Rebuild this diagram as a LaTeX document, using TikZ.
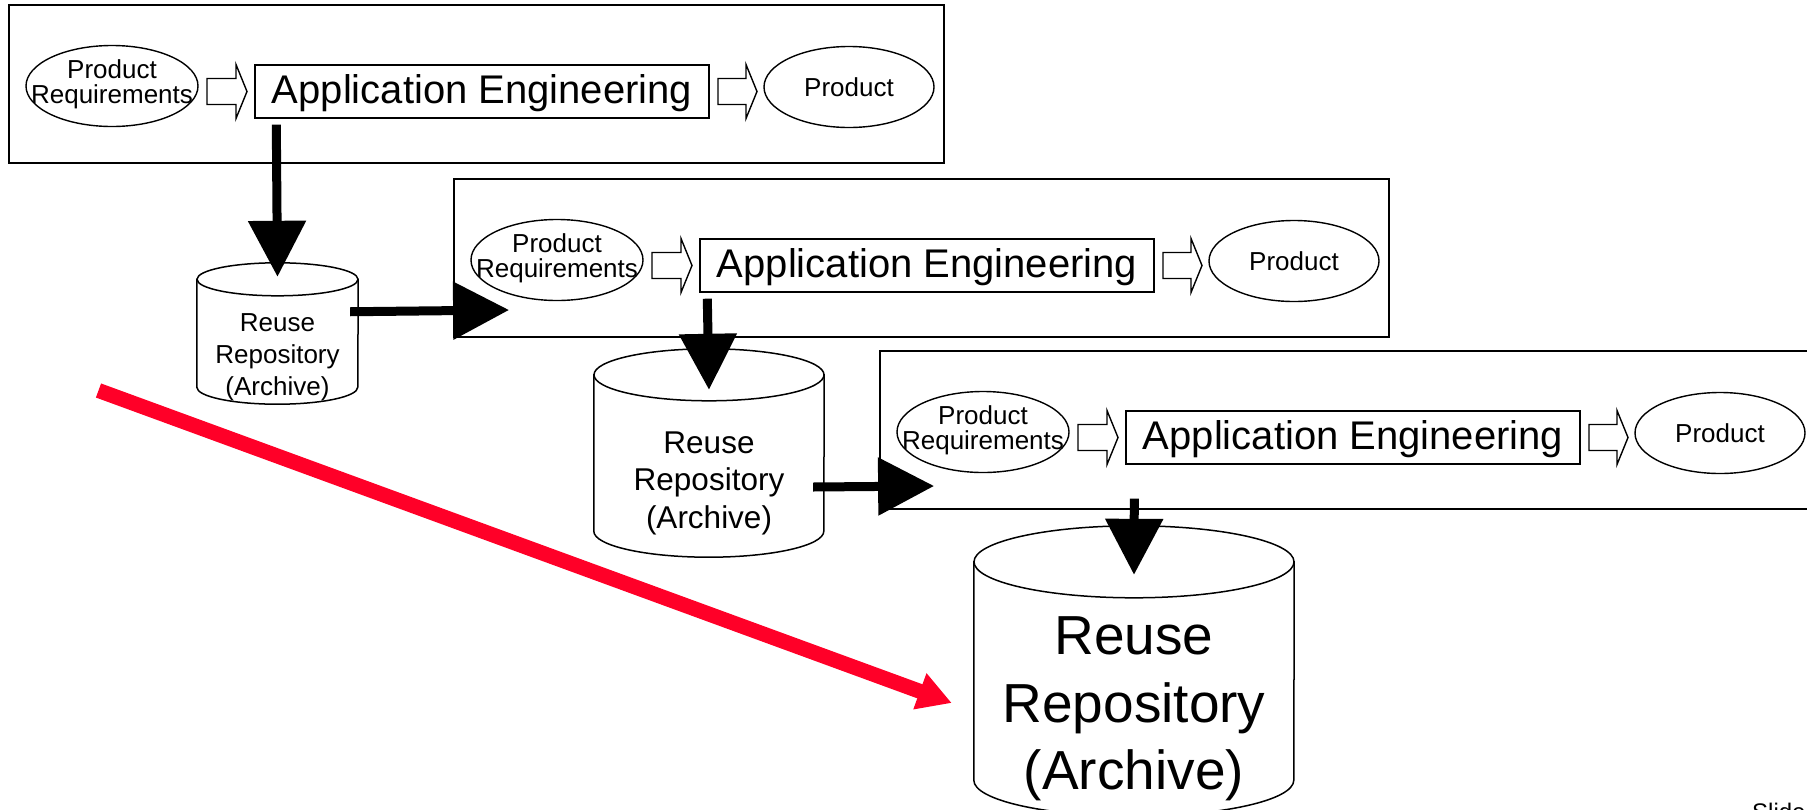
\documentclass[tikz,border=0pt]{standalone}
\usepackage{fontspec}
\setmainfont{Liberation Sans}
\usetikzlibrary{shapes.geometric,arrows.meta,calc}
\definecolor{myred}{RGB}{255,0,40}
\tikzset{
  panelbox/.style={draw, line width=1.8pt, inner sep=0pt, minimum width=935pt, minimum height=158pt},
  oval/.style={draw, ellipse, line width=1.4pt, inner sep=0pt},
  engbox/.style={draw, line width=1.4pt, inner sep=0pt, minimum width=454pt, minimum height=53pt, text height=29pt, text depth=6pt, font=\fontsize{40pt}{40pt}\selectfont},
  smalltxt/.style={font=\fontsize{26pt}{25pt}\selectfont, align=center, inner sep=0pt},
  hollow/.style={draw, line width=1.4pt, fill=white, line join=miter},
  cylbody/.style={inner sep=0pt},
  cylline/.style={draw, line width=1.5pt, fill=white},
  cyltxtA/.style={font=\fontsize{26pt}{32pt}\selectfont, align=center, inner sep=0pt},
  cyltxtB/.style={font=\fontsize{31.5pt}{37.5pt}\selectfont, align=center, inner sep=0pt},
  cyltxtC/.style={font=\fontsize{55pt}{67.5pt}\selectfont, align=center, inner sep=0pt},
  bigarrow/.style={line width=9pt, -{Triangle[length=56pt,width=56pt]}},
  redarrow/.style={line width=15pt, draw=myred, -{Triangle[length=34pt,width=36pt]}},
  panel/.pic={
    \node[panelbox] (-box) at (476.5,84) {};
    \node[oval, minimum width=172pt, minimum height=81pt] (-pr) at (112,86) {};
    \node[smalltxt] (-prt) at (112,84) {Product\\Requirements};
    \node[engbox] (-ae) at (482,91.5) {Application Engineering};
    \node[oval, minimum width=170pt, minimum height=81pt] (-pd) at (849,87) {};
    \node[smalltxt] (-pdt) at (849,87) {Product};
    \draw[hollow] (207,78.5) -- (236,78.5) -- (236,64.5) -- (247,91.5) -- (236,118.5) -- (236,104.5) -- (207,104.5) -- cycle;
    \draw[hollow] (718,78.5) -- (746,78.5) -- (746,64.5) -- (757,91.5) -- (746,118.5) -- (746,104.5) -- (718,104.5) -- cycle;
  }
}
\begin{document}
\begin{tikzpicture}[x=1pt,y=-1pt]
\useasboundingbox (0,0) rectangle (1807,809);

% panels
\pic (p1) at (0,0) {panel};
\pic (p2) at (445,174) {panel};
\pic (p3) at (871,346) {panel};

% cylinders (body nodes span top centre to bottom centre)
\node[cylbody, minimum width=161pt, minimum height=107.5pt] (c1) at (277.5,333.25) {};
\node[cylbody, minimum width=230pt, minimum height=156pt] (c2) at (709,453) {};
\node[cylbody, minimum width=320pt, minimum height=218pt] (c3) at (1134,671) {};

\path[cylline] (c1.north west) -- (c1.south west) arc[start angle=180, end angle=360, x radius=80.5pt, y radius=17pt] -- (c1.north east) -- cycle;
\path[cylline] (c1.north) ellipse[x radius=80.5pt, y radius=16.5pt];
\path[cylline] (c2.north west) -- (c2.south west) arc[start angle=180, end angle=360, x radius=115pt, y radius=26pt] -- (c2.north east) -- cycle;
\path[cylline] (c2.north) ellipse[x radius=115pt, y radius=26pt];
\path[cylline] (c3.north west) -- (c3.south west) arc[start angle=180, end angle=360, x radius=160pt, y radius=36pt] -- (c3.north east) -- cycle;
\path[cylline] (c3.north) ellipse[x radius=160pt, y radius=36pt];

\node[cyltxtA] (t1) at (277.5,357) {Reuse\\Repository\\(Archive)};
\node[cyltxtB] (t2) at (709,483) {Reuse\\Repository\\(Archive)};
\node[cyltxtC] (t3) at (1134,709) {Reuse\\Repository\\(Archive)};

% black connectors
\draw[bigarrow] ($(p1-ae.south west)+(22,6)$) -- ($(c1.north)+(0,-2.5)$);
\draw[bigarrow] ($(c1.east)+(-8,-21.5)$) -- ($(p2-box.west)+(56,52)$);
\draw[bigarrow] ($(p2-ae.south west)+(8,6)$) -- ($(c2.north)+(0,15)$);
\draw[bigarrow] ($(c2.east)+(-11,34)$) -- ($(p3-box.west)+(55,56)$);
\draw[bigarrow] ($(p3-ae.south west)+(9,34)$) -- ($(c3.north)+(0,13)$);

% red connector
\coordinate (redstart) at (98.5,390.5);
\draw[redarrow] (redstart) -- ($(c3.west)+(-22,32)$);

% cut-off footer text, as in the reference
\node[anchor=base west, inner sep=0pt, font=\fontsize{24pt}{24pt}\selectfont] (slide) at (1752,820) {Slide};
\end{tikzpicture}
\end{document}
